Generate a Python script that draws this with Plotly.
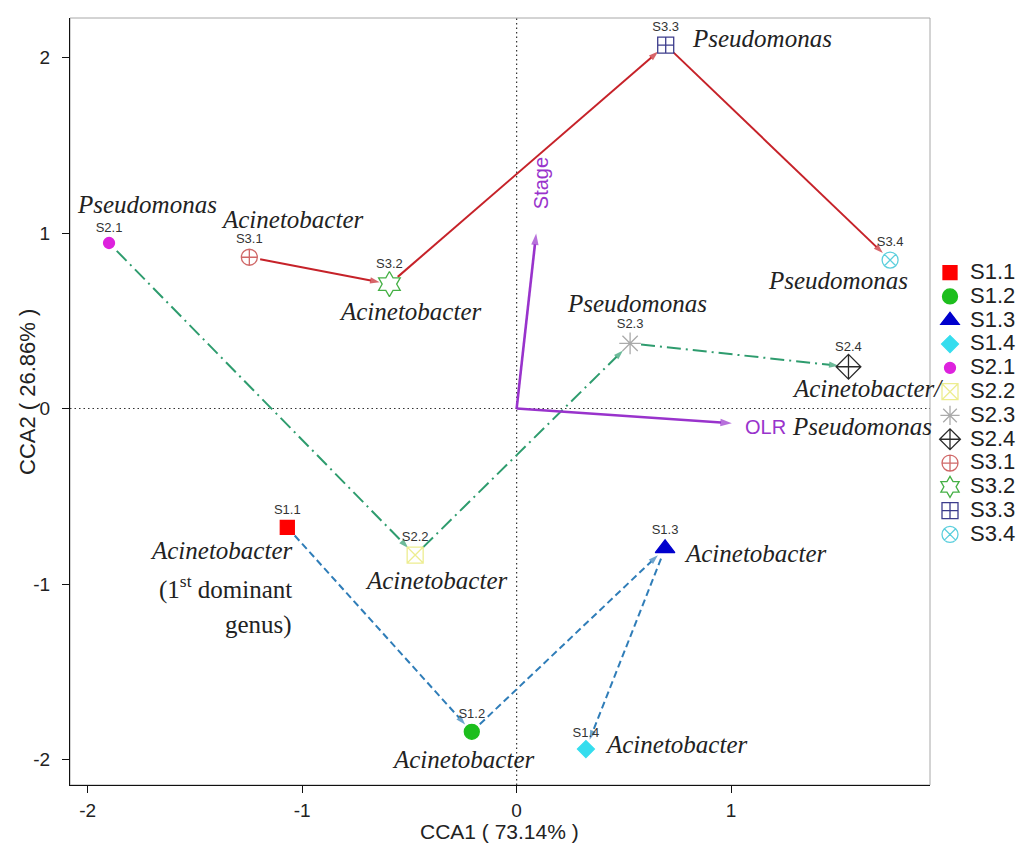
import math
import plotly.graph_objects as go

# ---------------- data ----------------
samples = ["S1.1", "S1.2", "S1.3", "S1.4", "S2.1", "S2.2", "S2.3", "S2.4",
           "S3.1", "S3.2", "S3.3", "S3.4"]
cca1 = [-1.069, -0.209, 0.692, 0.323, -1.900, -0.473, 0.529, 1.547,
        -1.246, -0.593, 0.695, 1.741]
cca2 = [-0.677, -1.842, -0.797, -1.940, 0.943, -0.835, 0.371, 0.238,
        0.862, 0.709, 2.071, 0.846]

series_s1 = ["S1.1", "S1.2", "S1.3", "S1.4"]
series_s2 = ["S2.1", "S2.2", "S2.3", "S2.4"]
series_s3 = ["S3.1", "S3.2", "S3.3", "S3.4"]

env_names = ["Stage", "OLR"]
env_cca1 = [0.091, 1.003]
env_cca2 = [0.997, -0.084]

genus_text = ["Acinetobacter", "Acinetobacter", "Acinetobacter", "Acinetobacter",
              "Pseudomonas", "Acinetobacter", "Pseudomonas", "Acinetobacter/",
              "Acinetobacter", "Acinetobacter", "Pseudomonas", "Pseudomonas"]
extra_text = ["(1<sup>st</sup> dominant", "genus)", "Pseudomonas"]

x_title = "CCA1 ( 73.14% )"
y_title = "CCA2 ( 26.86% )"
x_ticks = [-2, -1, 0, 1]
y_ticks = [-2, -1, 0, 1, 2]

# ---------------- layout geometry / styles ----------------
W, H = 1017, 849
ML, MR, MT, MB = 70, 87, 18, 64
xr = [-2.082, 1.927]
yr = [-2.145, 2.225]
pw, ph = W - ML - MR, H - MT - MB
sx = pw / (xr[1] - xr[0])
sy = ph / (yr[1] - yr[0])

def to_px(x, y):
    return ((x - xr[0]) * sx, (yr[1] - y) * sy)

def from_px(px, py):
    return (px / sx + xr[0], yr[1] - py / sy)

symbols = ["square", "circle", "triangle-up", "diamond", "circle", "square-x-open",
           "asterisk-open", "diamond-cross-open", "circle-cross-open", "hexagram-open",
           "square-cross-open", "circle-x-open"]
colors = ["#FF0000", "#1DBE1D", "#0000CD", "#35DDEE", "#DD22DD", "#EDED90",
          "#AAAAAA", "#2A2A2A", "#D06868", "#45B045", "#3C3C8C", "#5CCFDD"]
sizes = [14, 15, 17, 13, 11, 16, 18, 19, 16, 19, 16, 16]

series_styles = [
    (series_s1, "#2F7DB8", "7px,4px"),
    (series_s2, "#2E9C6E", "14px,5px,2px,5px"),
    (series_s3, "#C62229", "solid"),
]
ENV_COLOR = "#9933CC"
SANS = "Liberation Sans, Arial, sans-serif"
SERIF = "Liberation Serif, Times New Roman, serif"
GENUS_SIZE = 25

# genus label placement (data coords) : (x, y, xanchor)
genus_pos = [(-1.037, -0.811, "right"), (-0.250, -2.000, "center"),
             (1.112, -0.825, "center"), (0.744, -1.917, "center"),
             (-1.721, 1.160, "center"), (-0.377, -0.977, "center"),
             (0.563, 0.599, "center"), (1.275, 0.115, "left"),
             (-1.045, 1.075, "center"), (-0.497, 0.552, "center"),
             (1.143, 2.109, "center"), (1.496, 0.732, "center")]
extra_pos = [(-1.037, -1.022, "right", False), (-1.037, -1.236, "right", False),
             (1.275, -0.104, "left", True)]

fig = go.Figure()
annotations = []

idx = {s: i for i, s in enumerate(samples)}

# trajectory segments with arrowheads (arrow markers oriented along the line)
for members, col, dash in series_styles:
    for a, b in zip(members[:-1], members[1:]):
        i, j = idx[a], idx[b]
        p0 = to_px(cca1[i], cca2[i])
        p1 = to_px(cca1[j], cca2[j])
        dx, dy = p1[0] - p0[0], p1[1] - p0[1]
        ln = math.hypot(dx, dy)
        ux, uy = dx / ln, dy / ln
        gs, ge = 11, 10
        s_d = from_px(p0[0] + ux * gs, p0[1] + uy * gs)
        e_d = from_px(p1[0] - ux * ge, p1[1] - uy * ge)
        fig.add_trace(go.Scatter(
            x=[s_d[0], e_d[0]], y=[s_d[1], e_d[1]], mode="lines+markers",
            line=dict(color=col, width=2, dash=dash),
            marker=dict(symbol="arrow", size=[0, 10], angleref="previous",
                        color=col, line=dict(width=0)),
            showlegend=False, hoverinfo="skip"))

# environmental arrows
for k, nm in enumerate(env_names):
    fig.add_trace(go.Scatter(
        x=[0, env_cca1[k]], y=[0, env_cca2[k]], mode="lines+markers",
        line=dict(color=ENV_COLOR, width=2.6),
        marker=dict(symbol="arrow", size=[0, 12], angleref="previous",
                    color=ENV_COLOR, line=dict(width=0)),
        showlegend=False, hoverinfo="skip"))
annotations.append(dict(x=0.113, y=1.283, xref="x", yref="y", text=env_names[0],
                        textangle=-90, showarrow=False,
                        font=dict(family=SANS, size=20, color=ENV_COLOR)))
annotations.append(dict(x=1.159, y=-0.104, xref="x", yref="y", text=env_names[1],
                        showarrow=False, font=dict(family=SANS, size=20, color=ENV_COLOR)))

# sample markers (one trace per sample for the legend)
for i, s in enumerate(samples):
    fig.add_trace(go.Scatter(
        x=[cca1[i]], y=[cca2[i]], mode="markers+text", text=[s],
        textposition="top center",
        textfont=dict(family=SANS, size=13, color="#333333"),
        marker=dict(symbol=symbols[i], size=sizes[i], color=colors[i],
                    line=dict(color=colors[i], width=1.3)),
        name='<span style="font-size:22px">%s</span>' % s,
        cliponaxis=False))

# genus labels
for t, (gx, gy, anc) in zip(genus_text, genus_pos):
    annotations.append(dict(x=gx, y=gy, xref="x", yref="y", text="<i>%s</i>" % t,
                            showarrow=False, xanchor=anc, yanchor="middle",
                            font=dict(family=SERIF, size=GENUS_SIZE, color="#222222")))
for t, (gx, gy, anc, ital) in zip(extra_text, extra_pos):
    txt = "<i>%s</i>" % t if ital else t
    annotations.append(dict(x=gx, y=gy, xref="x", yref="y", text=txt,
                            showarrow=False, xanchor=anc, yanchor="middle",
                            font=dict(family=SERIF, size=GENUS_SIZE, color="#222222")))

# axis titles
annotations.append(dict(x=0.499, y=-0.061, xref="paper", yref="paper", text=x_title,
                        showarrow=False, xanchor="center", yanchor="middle",
                        font=dict(family=SANS, size=21, color="#222222")))
annotations.append(dict(x=(27 - ML) / pw, y=(H - MB - 392) / ph, xref="paper", yref="paper",
                        text=y_title, textangle=-90, showarrow=False,
                        xanchor="center", yanchor="middle",
                        font=dict(family=SANS, size=22, color="#222222")))

shapes = [
    dict(type="rect", xref="paper", yref="paper", x0=0, x1=1, y0=0, y1=1,
         line=dict(color="#A8A8A8", width=1), layer="below"),
    dict(type="line", xref="x", yref="paper", x0=0, x1=0, y0=0, y1=1,
         line=dict(color="#333333", width=1.2, dash="1.5px,3px"), layer="below"),
    dict(type="line", xref="paper", yref="y", x0=0, x1=1, y0=0, y1=0,
         line=dict(color="#333333", width=1.2, dash="1.5px,3px"), layer="below"),
]

axis_common = dict(showgrid=False, zeroline=False, showline=True, linecolor="#111111",
                   linewidth=1.2, ticks="outside", ticklen=7, tickwidth=1.2,
                   tickcolor="#111111", tickfont=dict(family=SANS, size=19, color="#222222"))

fig.update_layout(
    width=W, height=H,
    margin=dict(l=ML, r=MR, t=MT, b=MB, autoexpand=False),
    paper_bgcolor="white", plot_bgcolor="white",
    xaxis=dict(range=xr, tickvals=x_ticks, ticktext=[str(v) for v in x_ticks],
               ticklabelstandoff=1, **axis_common),
    yaxis=dict(range=yr, tickvals=y_ticks, ticktext=[str(v) for v in y_ticks],
               ticklabelstandoff=8, **axis_common),
    legend=dict(x=1.0, y=0.69, xanchor="left", yanchor="top",
                font=dict(family=SANS, size=16, color="#222222"),
                bgcolor="rgba(0,0,0,0)", itemsizing="trace", tracegroupgap=0),
    annotations=annotations, shapes=shapes,
    showlegend=True,
)

fig.write_html("out.html")
